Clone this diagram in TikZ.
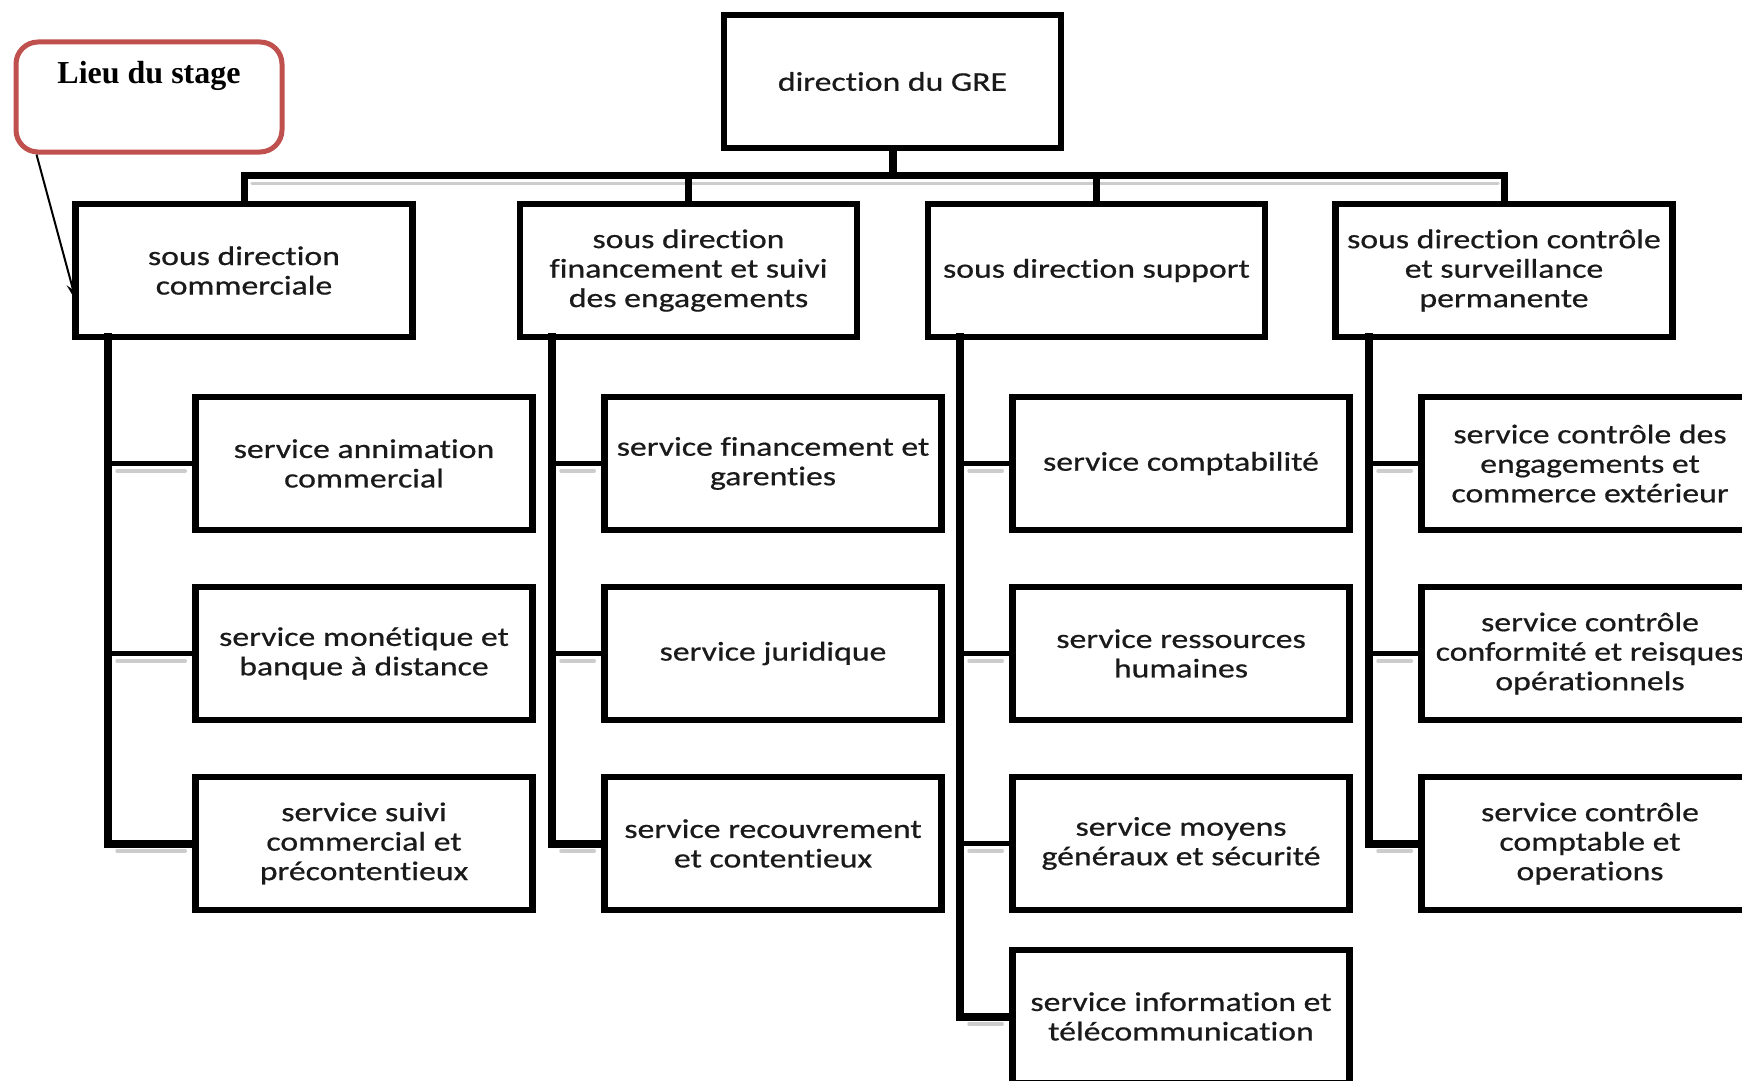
\documentclass[tikz,border=0pt]{standalone}
\usepackage{fontspec}
\usetikzlibrary{calc,arrows.meta}
\newfontfamily\boxfont[FakeStretch=1.25,FakeBold=0.6,Ligatures=NoCommon]{Carlito}
\newfontfamily\lieufont{Liberation Serif}
\definecolor{calloutred}{HTML}{C0504D}
\definecolor{txt}{HTML}{1A1A1A}
\begin{document}
\begin{tikzpicture}[x=1pt,y=-1pt,
  box/.style={draw, line width=6.5pt, rectangle, minimum width=337pt, minimum height=133pt, inner sep=0pt, align=center, font=\boxfont\fontsize{27}{29.5}\selectfont, text=txt},
  conn/.style={line width=7pt, line cap=rect, line join=miter},
  trunk/.style={line width=8pt, line cap=rect, line join=miter},
  branch/.style={line width=5pt},
  shadowline/.style={line width=3.5pt, gray!40, line cap=round},
  callout/.style={draw=calloutred, line width=5pt, rounded corners=22pt, minimum width=266pt, minimum height=110pt, inner sep=0pt},
  lieu/.style={font=\lieufont\bfseries\fontsize{32}{36}\selectfont, inner sep=0pt, anchor=base}]
\useasboundingbox (0,0) rectangle (1742,1081);
\clip (0,0) rectangle (1742,1081);
\fill[white] (0,0) rectangle (1742,1081);

% top
\node[box] (top) at (892.5,81.5) {direction du GRE};
% sous directions
\node[box] (d1) at (244,270.5) {sous direction\\commerciale};
\node[box] (d2) at (688.5,270.5) {sous direction\\financement et suivi\\des engagements};
\node[box] (d3) at (1096.5,270.5) {sous direction support};
\node[box] (d4) at (1504,270.5) {sous direction contrôle\\et surveillance\\permanente};
% services col 1
\node[box] (c11) at (364,463.5) {service annimation\\commercial};
\node[box] (c12) at (364,653.5) {service monétique et\\banque à distance};
\node[box] (c13) at (364,843.5) {service suivi\\commercial et\\précontentieux};
% col 2
\node[box] (c21) at (773,463.5) {service financement et\\garenties};
\node[box] (c22) at (773,653.5) {service juridique};
\node[box] (c23) at (773,843.5) {service recouvrement\\et contentieux};
% col 3
\node[box] (c31) at (1181,463.5) {service comptabilité};
\node[box] (c32) at (1181,653.5) {service ressources\\humaines};
\node[box] (c33) at (1181,843.5) {service moyens\\généraux et sécurité};
\node[box] (c34) at (1181,1016.5) {service information et\\télécommunication};
% col 4
\node[box] (c41) at (1590,463.5) {service contrôle des\\engagements et\\commerce extérieur};
\node[box] (c42) at (1590,653.5) {service contrôle\\conformité et reisques\\opérationnels};
\node[box] (c43) at (1590,843.5) {service contrôle\\comptable et\\operations};

% trunk tops
\coordinate (bus) at (892.5,175);
\coordinate (t1) at (108,337);
\coordinate (t2) at (552,337);
\coordinate (t3) at (960,337);
\coordinate (t4) at (1369,337);

% shadows
\draw[shadowline] ($(d1.north |- bus)+(8,8.5)$) -- ($(d4.north |- bus)+(-6,8.5)$);
\foreach \t/\c in {t1/c11,t1/c12,t1/c13,t2/c21,t2/c22,t2/c23,t3/c31,t3/c32,t3/c33,t3/c34,t4/c41,t4/c42,t4/c43}{
  \draw[shadowline] ($(\t |- \c.west)+(9,7.5)$) -- ($(\c.west)+(-7,7.5)$);
}

% bus
\draw[conn, line width=8pt] (top.south) -- (bus);
\draw[conn] (d1.north) |- (bus) -| (d4.north);
\draw[conn] (d2.north) -- (d2.north |- bus);
\draw[conn] (d3.north) -- (d3.north |- bus);

% trunks and branches
\draw[trunk] (t1) |- (c13.west);
\draw[branch] (c11.west) -- (c11.west -| t1);
\draw[branch] (c12.west) -- (c12.west -| t1);
\draw[trunk] (t2) |- (c23.west);
\draw[branch] (c21.west) -- (c21.west -| t2);
\draw[branch] (c22.west) -- (c22.west -| t2);
\draw[trunk] (t3) |- (c34.west);
\draw[branch] (c31.west) -- (c31.west -| t3);
\draw[branch] (c32.west) -- (c32.west -| t3);
\draw[branch] (c33.west) -- (c33.west -| t3);
\draw[trunk] (t4) |- (c43.west);
\draw[branch] (c41.west) -- (c41.west -| t4);
\draw[branch] (c42.west) -- (c42.west -| t4);

% callout
\node[callout] (callout) at (149,97) {};
\node[lieu] (lieutext) at (149,83) {Lieu du stage};
\draw[line width=2pt, -{Stealth[length=18pt,width=10pt]}] ([xshift=23pt]callout.south west) -- ([xshift=4pt,yshift=-31pt]d1.west);
\end{tikzpicture}
\end{document}
